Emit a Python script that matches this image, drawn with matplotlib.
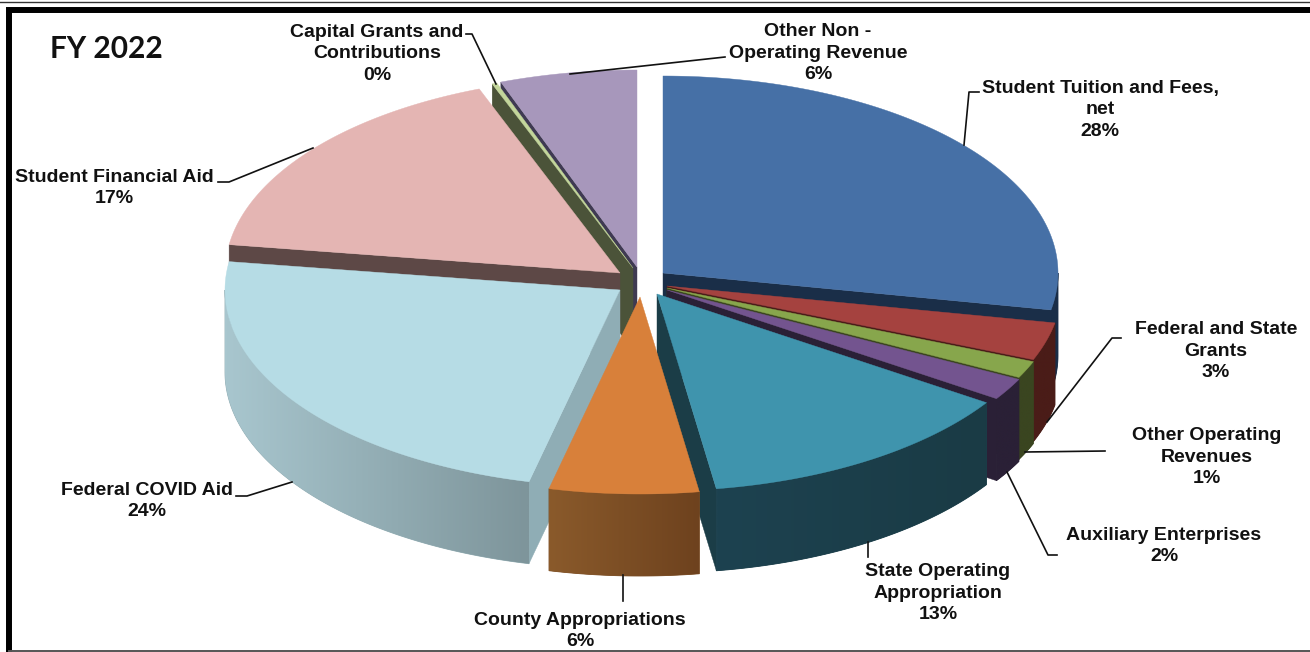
import numpy as np
from matplotlib import pyplot as plt
from matplotlib.colors import to_rgb
from matplotlib.patches import Polygon

plt.rcParams['font.family'] = ['Liberation Sans', 'DejaVu Sans']

# clockwise from 12 o'clock, shares
categories = ["Student Tuition and Fees,\nnet", "Federal and State\nGrants", "Other Operating\nRevenues",
              "Auxiliary Enterprises", "State Operating\nAppropriation", "County Appropriations",
              "Federal COVID Aid", "Student Financial Aid", "Capital Grants and\nContributions",
              "Other Non -\nOperating Revenue"]
values = [28.0, 3.1, 1.4, 1.8, 13.3, 6.1, 23.6, 16.9, 0.2, 5.6]

top_colors = ['#4670a6', '#a5423f', '#87a64c', '#73548f', '#3f94ad', '#d8803a', '#b6dce5', '#e4b5b3', '#c3d69b', '#a797bb']
edge_colors = ['#1a2e48', '#4a1c18', '#3a4520', '#2a2036', '#1b3d47', '#6e421e', '#8fadb5', '#5d4846', '#4b5339', '#3f3a52']
wall_right = ['#1a2e48', '#4a1c18', '#3a4520', '#2a2036', '#1a3b45', '#6e421e', '#7e959b', '#5d4846', '#4b5339', '#3f3a52']
wall_left = ['#1a2e48', '#4a1c18', '#3a4520', '#2a2036', '#1d4250', '#8a5a2b', '#a8c6ce', '#5d4846', '#4b5339', '#3f3a52']

# where each exploded slice has its tip, in pixels of the figure
apex_x = [663, 667, 667, 667, 657, 640, 620, 620, 633, 637]
apex_y = [273, 286, 288, 290, 294, 297, 290, 273, 268, 267]
draw_order = [9, 8, 7, 6, 0, 1, 2, 3, 4, 5]

RX, RY, DEPTH = 395, 197, 82

# label centre x, y and leader line
label_x = [1100, 1216, 1207, 1164, 938, 580, 147, 114, 377, 818]
label_y = [110, 351, 457, 546, 593, 631, 501, 188, 54, 53]
leaders = [[(964, 145), (969, 92), (979, 92)],
           [(1047, 422), (1112, 338), (1121, 338)],
           [(1025, 452), (1105, 451)],
           [(1007, 472), (1048, 555), (1057, 555)],
           [(868, 542), (868, 557)],
           [(623, 575), (623, 601)],
           [(292, 482), (247, 496), (236, 496)],
           [(313, 148), (229, 182), (218, 182)],
           [(466, 34), (472, 34), (496, 84)],
           [(570, 74), (725, 57)]]


def rim(cx, cy, th):
    return cx + RX*np.sin(th), cy - RY*np.cos(th)


fig = plt.figure(figsize=(13.1, 6.52), dpi=100)
ax = fig.add_axes([0, 0, 1, 1])
ax.set_xlim(0, 1310)
ax.set_ylim(652, 0)
ax.set_autoscale_on(False)
ax.axis('off')

shares = np.array(values)/sum(values)*2*np.pi
ends = np.cumsum(shares)
starts = ends - shares

for i in draw_order:
    a, b = starts[i], ends[i]
    cx, cy = apex_x[i], apex_y[i]

    # flat side walls, only the ones facing us
    for th, show in [(a, np.pi < a < 2*np.pi), (b, 0 < b < np.pi)]:
        if show:
            x, y = rim(cx, cy, th)
            ax.fill([cx, x, x, cx], [cy, y, y+DEPTH, cy+DEPTH], color=edge_colors[i], lw=0.3, zorder=1)

    # curved wall, a horizontal gradient clipped to the wall outline
    lo, hi = max(a, np.pi/2), min(b, 3*np.pi/2)
    if hi > lo:
        ts = np.linspace(lo, hi, 80)
        xs, ys = rim(cx, cy, ts)
        outline = np.c_[np.r_[xs, xs[::-1]], np.r_[ys, ys[::-1]+DEPTH]]
        c0, c1 = np.array(to_rgb(wall_left[i])), np.array(to_rgb(wall_right[i]))
        ax.fill(outline[:, 0], outline[:, 1], color=(c0+c1)/2, lw=0.6, zorder=1)  # closes the seams
        grad = np.linspace(c0, c1, 64)[None, :, :]
        im = ax.imshow(grad, extent=(xs.min(), xs.max(), ys.max()+DEPTH, ys.min()), aspect='auto',
                       interpolation='bilinear', zorder=1)
        im.set_clip_path(Polygon(outline, transform=ax.transData))

    ts = np.linspace(a, b, max(3, int(np.degrees(b-a))*2))
    xs, ys = rim(cx, cy, ts)
    ax.fill(np.r_[cx, xs], np.r_[cy, ys], color=top_colors[i], lw=0.3, zorder=1)

for pts in leaders:
    ax.plot(*zip(*pts), color='#111111', lw=1.2, zorder=3)

for name, v, x, y in zip(categories, values, label_x, label_y):
    ax.text(x, y, f"{name}\n{round(v)}%", ha='center', va='center', fontsize=14, fontweight='bold',
            linespacing=1.34, color='#111111', zorder=4)

ax.text(50, 49, "FY 2022", fontfamily='Lato', fontsize=21.5, fontweight='bold', va='center', color='#111111')

# frame of the slide, open on the right
ax.plot([0, 1310], [1.5, 1.5], color='#333333', lw=1, zorder=5)
ax.plot([9, 9, 1310], [652, 10, 10], color='black', lw=4.3, zorder=5, solid_joinstyle='miter')
ax.plot([9, 1310], [651, 651], color='#555555', lw=1.4, zorder=5)

plt.savefig("out.png", dpi=100)
